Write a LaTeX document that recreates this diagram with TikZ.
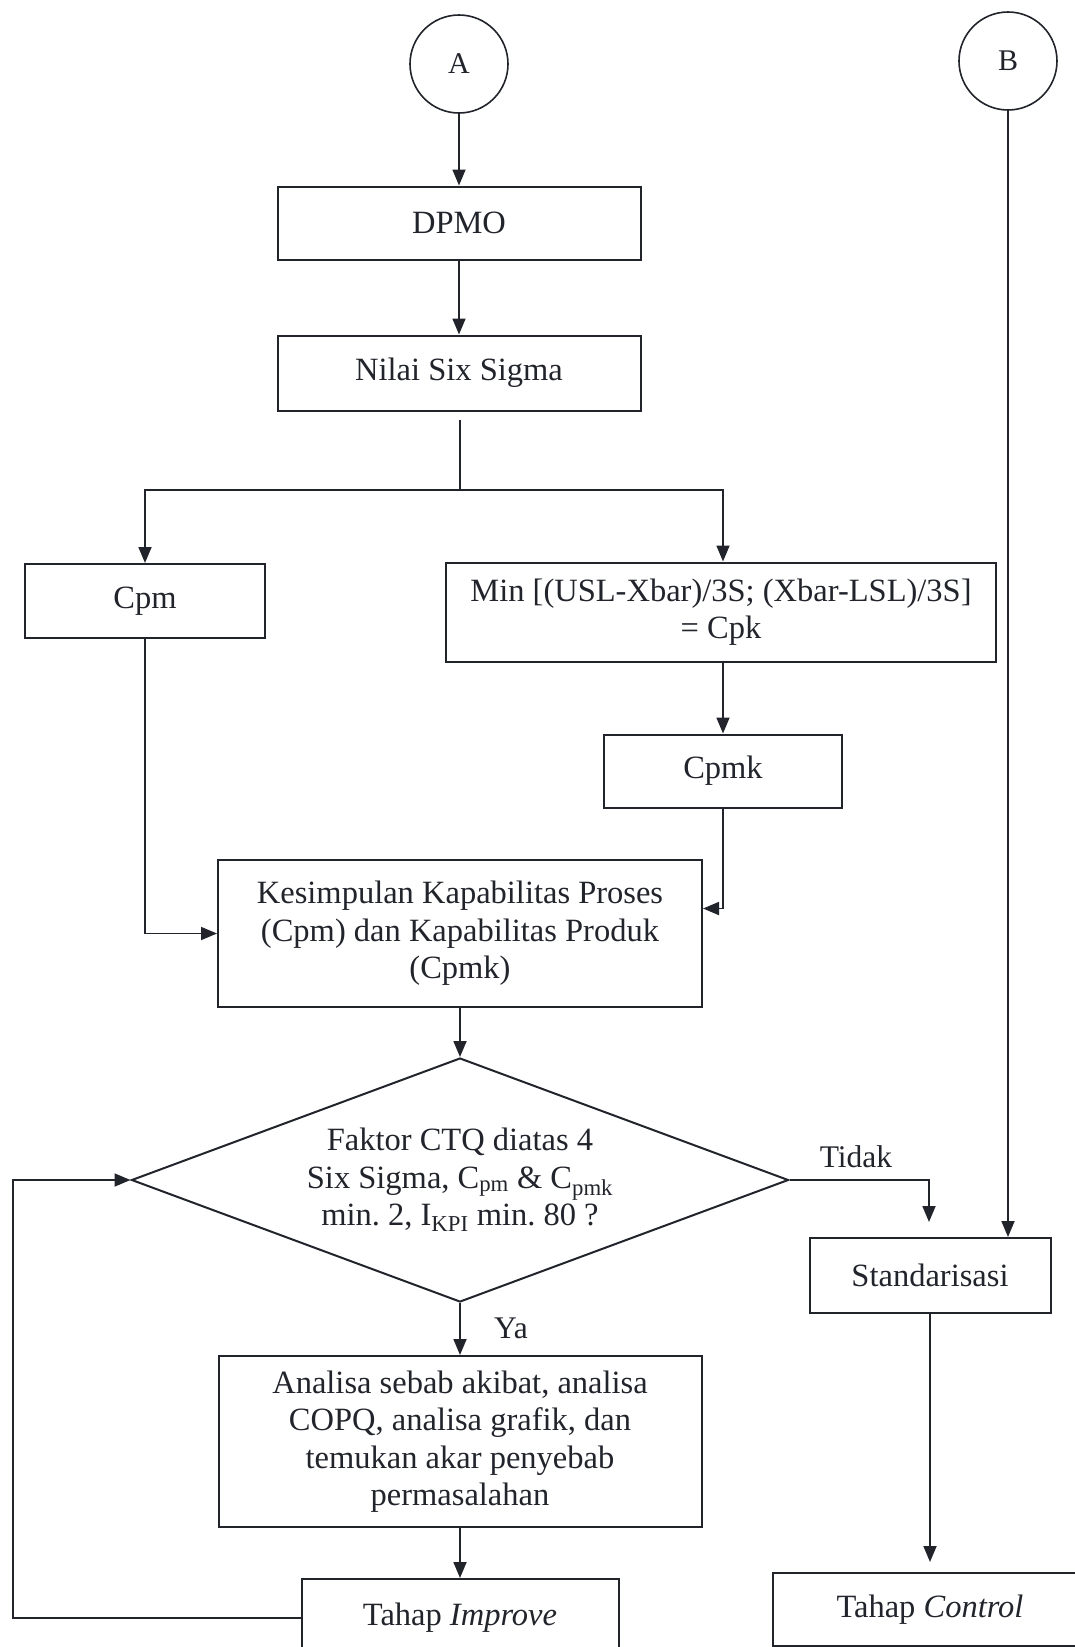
\documentclass[tikz,border=0pt]{standalone}
\usepackage{fontspec}
\setmainfont{Liberation Serif}
\usetikzlibrary{arrows.meta,shapes.geometric}

\definecolor{ink}{RGB}{34,36,44}

\begin{document}
\begin{tikzpicture}[x=1pt,y=-1pt,
  every node/.style={text=ink},
  lbl/.style={font=\fontsize{31.5}{37}\selectfont},
  stepbox/.style={draw=ink,line width=2pt,inner sep=0pt,align=center,
    font=\fontsize{32.5}{37.5}\selectfont},
  conn/.style={draw=ink,line width=1.6pt,circle,inner sep=0pt,minimum size=98pt,
    font=\fontsize{30}{36}\selectfont},
  decide/.style={draw=ink,line width=2pt,diamond,shape aspect=2.69,inner sep=0pt,
    align=center,font=\fontsize{32.5}{37.5}\selectfont},
  wire/.style={draw=ink,line width=1.8pt},
  arr/.style={wire,-{Triangle[length=16pt,width=13pt]}}
]
\useasboundingbox (0,0) rectangle (1075,1647);
\clip (0,0) rectangle (1075,1647);

% connectors at the top
\node[conn] (A) at (459,64) {A};
\node[conn] (B) at (1008,61) {B};

% centre column
\node[stepbox,minimum width=363pt,minimum height=73pt] (dpmo) at (459,223) {DPMO};
\node[stepbox,minimum width=363pt,minimum height=75pt] (nilai) at (459,373) {Nilai Six Sigma};

\coordinate (split) at (460,490);

\node[stepbox,minimum width=240pt,minimum height=74pt] (cpm) at (145,601) {Cpm};
\node[stepbox,minimum width=550pt,minimum height=99pt] (cpk) at (721,612)
  {Min [(USL-Xbar)/3S; (Xbar-LSL)/3S]\\= Cpk};
\node[stepbox,minimum width=238pt,minimum height=73pt] (cpmk) at (723,771) {Cpmk};

\node[stepbox,minimum width=484pt,minimum height=147pt] (kes) at (460,933.5)
  {Kesimpulan Kapabilitas Proses\\(Cpm) dan Kapabilitas Produk\\(Cpmk)};

\node[decide,minimum width=657pt,minimum height=244pt] (dec) at (460,1180)
  {Faktor CTQ diatas 4\\Six Sigma, C\textsubscript{pm} \& C\textsubscript{pmk}\\min.~2, I\textsubscript{KPI} min.~80 ?};

\node[stepbox,minimum width=483pt,minimum height=171pt] (ana) at (460,1441.5)
  {Analisa sebab akibat, analisa\\COPQ, analisa grafik, dan\\temukan akar penyebab\\permasalahan};

\node[stepbox,minimum width=317pt,minimum height=78pt] (imp) at (460,1618)
  {Tahap \textit{Improve}};

% right column
\node[stepbox,minimum width=241pt,minimum height=75pt] (std) at (930,1275.5) {Standarisasi};
\node[stepbox,minimum width=314pt,minimum height=73pt] (ctl) at (930,1609.5)
  {\raisebox{6pt}{Tahap \textit{Control}}};

\coordinate (loop) at (13,1618);
\coordinate (tk) at (929,1180);

% flow lines
\draw[arr] (A.south) -- (A.south |- dpmo.north);
\draw[arr] (dpmo.south) -- (dpmo.south |- nilai.north);
\draw[wire] ([yshift=-8pt]nilai.south -| split) -- (split);
\draw[arr] (split) -| (cpm.north);
\draw[arr] (split) -| (cpk.north -| cpmk.north);
\draw[arr] (cpk.south -| cpmk.north) -- (cpmk.north);
\draw[arr] (cpm.south) |- (kes.west);
\draw[arr] (cpmk.south) |- ([yshift=25pt]kes.east);
\draw[arr] (kes.south) -- (dec.north);
\draw[arr] (dec.south) -- (ana.north);
\draw[arr] (ana.south) -- (imp.north);
\draw[arr] (imp.west) -- (loop) |- (dec.west);
\draw[arr,shorten >=15pt] (dec.east) -- (tk) -- (tk |- std.north);
\draw[arr] (B.south) -- (B.south |- std.north);
\draw[arr,shorten >=10pt] (std.south) -- (std.south |- ctl.north);

% branch labels
\node[lbl] (tidak) at (856,1157) {Tidak};
\node[lbl] (ya) at (511,1328) {Ya};
\end{tikzpicture}
\end{document}
